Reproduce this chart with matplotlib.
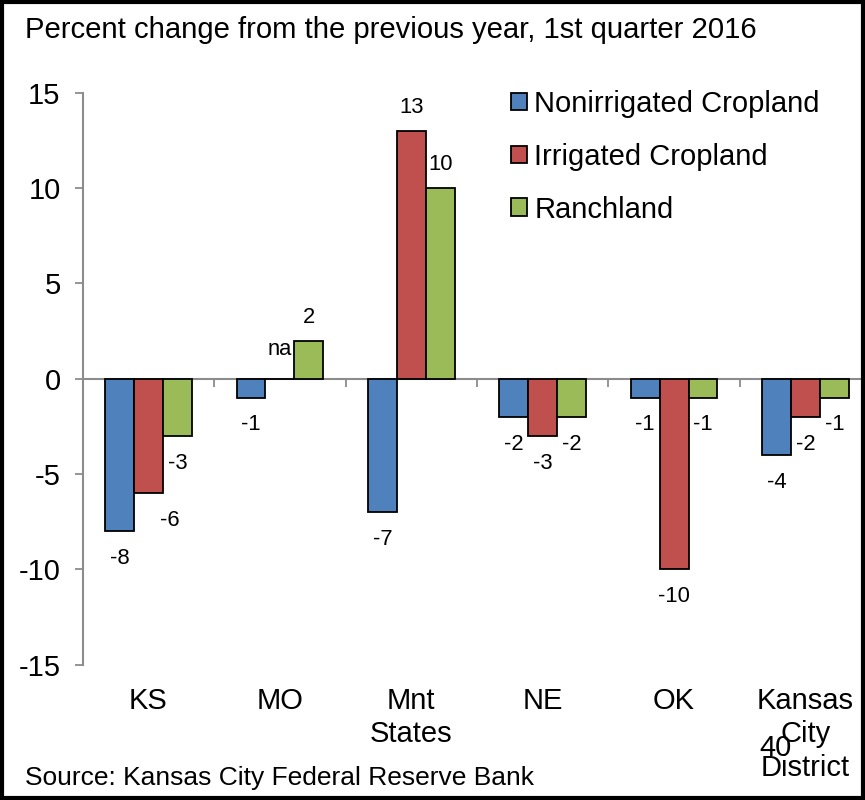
import numpy as np
import matplotlib
matplotlib.use('Agg')
import matplotlib.pyplot as plt
from matplotlib.patches import Rectangle
from matplotlib.transforms import blended_transform_factory

plt.rcParams['font.family'] = ['Liberation Sans', 'DejaVu Sans']

# data
categories = ['KS', 'MO', 'Mnt\nStates', 'NE', 'OK', 'Kansas\nCity\nDistrict']
series = ['Nonirrigated Cropland', 'Irrigated Cropland', 'Ranchland']
nonirrigated = [-8, -1, -7, -2, -1, -4]
irrigated = [-6, np.nan, 13, -3, -10, -2]
ranchland = [-3, 2, 10, -2, -1, -1]
colors = ['#4F81BD', '#C0504D', '#9BBB59']

fig = plt.figure(figsize=(8.65, 8), dpi=100)
ax = fig.add_axes([0.0957, 0.169, 0.9115, 0.715])

x = np.arange(len(categories))
w = 0.22
for k, vals in enumerate([nonirrigated, irrigated, ranchland]):
    vals = np.array(vals, dtype=float)
    pos = x + (k - 1) * w
    ax.bar(pos, np.nan_to_num(vals), w, color=colors[k], edgecolor='black',
           linewidth=1.3, label=series[k], zorder=3)
    for i, v in enumerate(vals):
        if np.isnan(v):
            txt, y, dy = 'na', 0, 21
        elif v >= 0:
            txt, y, dy = '%d' % v, v, 17
        else:
            txt, y, dy = '%d' % v, v, -19.5
        dx = 15 if (i == 0 and k == 1) else 0
        ax.annotate(txt, (pos[i], y), xytext=(dx, dy), textcoords='offset points',
                    ha='center', va='center', fontsize=15.8)

ax.set_xlim(-0.5, len(categories) - 0.5)
ax.set_ylim(-15, 15)
ax.set_yticks([-15, -10, -5, 0, 5, 10, 15])
ax.set_yticklabels(['-15', '-10', '-5', '0', '5', '10', '15'])

# axis line through zero with tick marks at category boundaries
ax.spines['bottom'].set_position(('data', 0))
ax.spines['top'].set_visible(False)
ax.spines['right'].set_visible(False)
for s in ['bottom', 'left']:
    ax.spines[s].set_color('#8c8c8c')
    ax.spines[s].set_linewidth(1.5)
ax.set_xticks(np.arange(0.5, len(categories) - 0.5))
ax.set_xticklabels([])
ax.tick_params(axis='x', direction='out', length=6, color='#8c8c8c', width=1.3)
ax.tick_params(axis='y', direction='out', length=6, color='#8c8c8c', width=1.3,
               labelsize=21, pad=10)

trans = blended_transform_factory(ax.transData, ax.transAxes)
for i, c in enumerate(categories):
    ax.text(i, -0.038, c, transform=trans, ha='center', va='top', fontsize=21,
            linespacing=1.27)

leg = ax.legend(loc='upper left', bbox_to_anchor=(511 / 865, 1 - 90 / 800),
                bbox_transform=fig.transFigure, frameon=False, fontsize=21,
                handlelength=0.55, handleheight=0.55, handletextpad=0.25,
                labelspacing=0.85, borderpad=0, borderaxespad=0)

fig.text(25 / 865, 1 - 30 / 800, 'Percent change from the previous year, 1st quarter 2016',
         fontsize=21.1, va='center', ha='left')
fig.text(25 / 865, 1 - 778 / 800, 'Source: Kansas City Federal Reserve Bank',
         fontsize=19, va='center', ha='left')
fig.text(775 / 865, 1 - 748 / 800, '40', fontsize=21, va='center', ha='center')

fig.patches.append(Rectangle((0.002, 0.002), 0.996, 0.996, transform=fig.transFigure,
                             fill=False, edgecolor='black', linewidth=3))

fig.savefig('out.png', dpi=100)
